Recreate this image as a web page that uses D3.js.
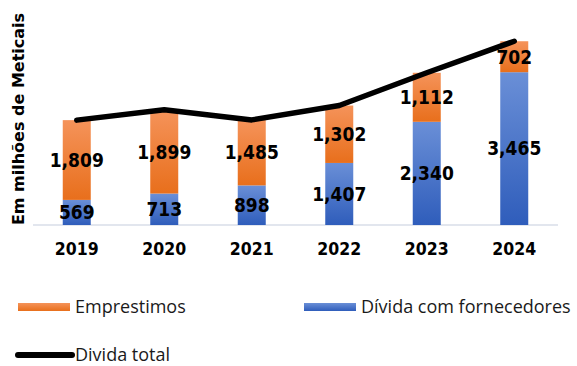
<!DOCTYPE html>
<html>
<head>
<meta charset="utf-8">
<script src="https://cdn.jsdelivr.net/npm/d3@7"></script>
<style>
  html, body { margin: 0; padding: 0; background: #fff; }
  svg { display: block; }
</style>
</head>
<body>
<svg id="chart" width="577" height="366"></svg>
<script>
// Dívida em milhões de Meticais, por ano
const years = ["2019", "2020", "2021", "2022", "2023", "2024"];
const fornecedores = [569, 713, 898, 1407, 2340, 3465];
const emprestimos = [1809, 1899, 1485, 1302, 1112, 702];
const seriesNames = ["Emprestimos", "Dívida com fornecedores", "Divida total"];
const axisTitle = "Em milhões de Meticais";

const fmt = d3.format(",");
const svg = d3.select("#chart");

const x = d3.scaleBand().domain(years).range([33, 558]).paddingInner(0.68).paddingOuter(0.34);
const y = d3.scaleLinear().domain([0, 5000]).range([225, 4.5]);

const rows = years.map((yr, i) => ({
  year: yr,
  forn: fornecedores[i],
  emp: emprestimos[i],
  total: fornecedores[i] + emprestimos[i]
}));

// vertical gradients for the two stacked series
const defs = svg.append("defs");
function grad(id, top, bottom) {
  const g = defs.append("linearGradient").attr("id", id)
    .attr("x1", 0).attr("y1", 0).attr("x2", 0).attr("y2", 1);
  g.append("stop").attr("offset", "0%").attr("stop-color", top);
  g.append("stop").attr("offset", "100%").attr("stop-color", bottom);
}
grad("gOrange", "#F5935A", "#E86F1C");
grad("gBlue", "#6A8FD7", "#2F5DBB");

// baseline
svg.append("line")
  .attr("x1", 33).attr("x2", 558)
  .attr("y1", y(0)).attr("y2", y(0))
  .attr("stroke", "#D9DEE8").attr("stroke-width", 1.5);

const bw = x.bandwidth();

// blue segment (fornecedores)
svg.append("g").selectAll("rect").data(rows).join("rect")
  .attr("x", d => x(d.year))
  .attr("width", bw)
  .attr("y", d => y(d.forn))
  .attr("height", d => y(0) - y(d.forn))
  .attr("fill", "url(#gBlue)");

// orange segment (emprestimos) stacked on top
svg.append("g").selectAll("rect").data(rows).join("rect")
  .attr("x", d => x(d.year))
  .attr("width", bw)
  .attr("y", d => y(d.total))
  .attr("height", d => y(d.forn) - y(d.total))
  .attr("fill", "url(#gOrange)");

// total debt line
const line = d3.line()
  .x(d => x(d.year) + bw / 2)
  .y(d => y(d.total));
svg.append("path")
  .datum(rows)
  .attr("d", line)
  .attr("fill", "none")
  .attr("stroke", "#000")
  .attr("stroke-width", 5.5)
  .attr("stroke-linecap", "round")
  .attr("stroke-linejoin", "round");

// value labels
const labelFont = "'DejaVu Sans Condensed', 'DejaVu Sans', Verdana, sans-serif";
const lg = svg.append("g")
  .attr("font-family", labelFont)
  .attr("font-weight", "bold")
  .attr("font-size", 19)
  .attr("text-anchor", "middle")
  .attr("fill", "#000");
lg.selectAll("text.f").data(rows).join("text").attr("class", "f")
  .attr("x", d => x(d.year) + bw / 2)
  .attr("y", d => (y(0) + y(d.forn)) / 2)
  .attr("dy", "0.36em")
  .text(d => fmt(d.forn));
lg.selectAll("text.e").data(rows).join("text").attr("class", "e")
  .attr("x", d => x(d.year) + bw / 2)
  .attr("y", d => (y(d.forn) + y(d.total)) / 2)
  .attr("dy", "0.36em")
  .text(d => fmt(d.emp));

// category axis
const xAxis = svg.append("g")
  .attr("transform", `translate(0,${y(0) + 14})`)
  .call(d3.axisBottom(x).tickSize(0).tickPadding(0));
xAxis.select(".domain").remove();
xAxis.selectAll("text")
  .attr("font-family", labelFont)
  .attr("font-weight", "bold")
  .attr("font-size", 17.5)
  .attr("fill", "#000")
  .attr("dy", "0.9em");

// axis title
svg.append("text")
  .attr("transform", "translate(24,119) rotate(-90)")
  .attr("text-anchor", "middle")
  .attr("font-family", "'DejaVu Sans', Verdana, sans-serif")
  .attr("font-weight", "bold")
  .attr("font-size", 16)
  .attr("fill", "#000")
  .text(axisTitle);

// legend
const legFont = "'Open Sans', 'Noto Sans', sans-serif";
const leg = svg.append("g").attr("font-family", legFont).attr("font-size", 18).attr("fill", "#1a1a1a");
leg.append("rect").attr("x", 18).attr("y", 303).attr("width", 52).attr("height", 8).attr("fill", "url(#gOrange)");
leg.append("text").attr("x", 75).attr("y", 313).text(seriesNames[0]);
leg.append("rect").attr("x", 304).attr("y", 303).attr("width", 52).attr("height", 8).attr("fill", "url(#gBlue)");
leg.append("text").attr("x", 361).attr("y", 313).text(seriesNames[1]);
leg.append("line").attr("x1", 18).attr("x2", 72).attr("y1", 355).attr("y2", 355)
  .attr("stroke", "#000").attr("stroke-width", 6).attr("stroke-linecap", "round");
leg.append("text").attr("x", 75).attr("y", 360.5).text(seriesNames[2]);
</script>
</body>
</html>
